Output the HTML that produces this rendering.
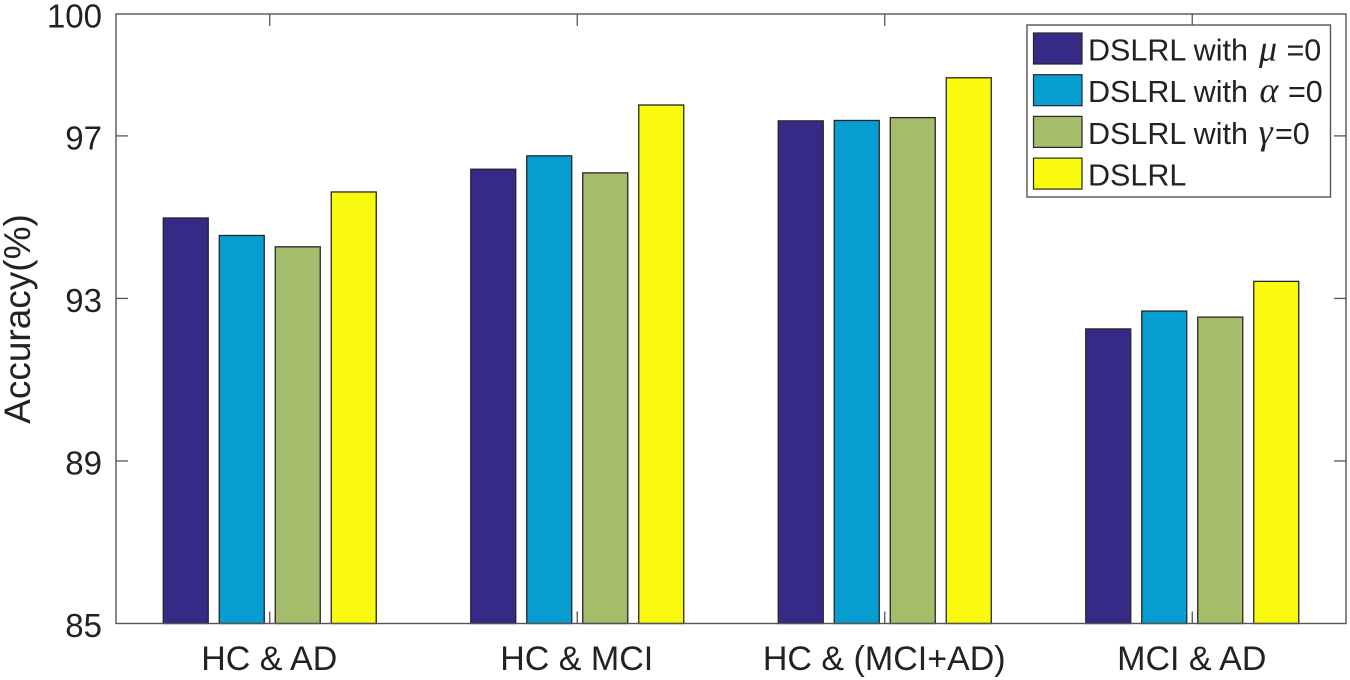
<!DOCTYPE html>
<html lang="en">
<head>
<meta charset="utf-8">
<title>Accuracy by classification task</title>
<style>
  html, body { margin: 0; padding: 0; background: #fff; }
  svg { display: block; }
  text { font-family: "Liberation Sans", sans-serif; fill: #222; }
  .greek { font-family: "Liberation Serif", serif; font-style: italic; }
</style>
</head>
<body>
<svg id="chart" width="1350" height="680" viewBox="0 0 1350 680" xmlns="http://www.w3.org/2000/svg"></svg>
<script>
const categories = ['HC & AD', 'HC & MCI', 'HC & (MCI+AD)', 'MCI & AD'];
const seriesMu = [94.98, 96.18, 97.37, 92.25];
const seriesAlpha = [94.55, 96.51, 97.38, 92.69];
const seriesGamma = [94.27, 96.09, 97.45, 92.54];
const seriesFull = [95.62, 97.76, 98.43, 93.42];
const yTicks = [85, 89, 93, 97, 100];
const seriesColors = ['#352a85', '#069dd1', '#a5bc6a', '#f9fa0d'];
const seriesKeys = ['mu', 'alpha', 'gamma', 'full'];

const NS = 'http://www.w3.org/2000/svg';
const svg = document.getElementById('chart');
const plot = { left: 116, right: 1346, top: 14, bottom: 623.5 };
const yMin = 85;
const yMax = 100;
const allSeries = [seriesMu, seriesAlpha, seriesGamma, seriesFull];

function yScale(v) {
  return plot.bottom - (v - yMin) / (yMax - yMin) * (plot.bottom - plot.top);
}
function xScale(i) {
  const step = (plot.right - plot.left) / categories.length;
  return plot.left + step * (i + 0.5);
}
function make(tag, attrs, parent) {
  const el = document.createElementNS(NS, tag);
  for (const k in attrs) el.setAttribute(k, attrs[k]);
  (parent || svg).appendChild(el);
  return el;
}

const barWidth = 45;
const barPitch = 56;

allSeries.forEach(function (values, s) {
  values.forEach(function (v, i) {
    const cx = xScale(i) + (s - 1.5) * barPitch;
    const y = yScale(v);
    const bar = make('rect', {
      x: cx - barWidth / 2,
      y: y,
      width: barWidth,
      height: plot.bottom - y,
      fill: seriesColors[s],
      stroke: '#26262a',
      'stroke-width': 1.3
    });
    
    
  });
});

const frame = make('rect', {
  x: plot.left,
  y: plot.top,
  width: plot.right - plot.left,
  height: plot.bottom - plot.top,
  fill: 'none',
  stroke: '#555',
  'stroke-width': 1.4
});



yTicks.forEach(function (t) {
  const y = yScale(t);
  if (t !== yMin && t !== yMax) {
    const left = make('line', { x1: plot.left, x2: plot.left + 12, y1: y, y2: y, stroke: '#555', 'stroke-width': 1.3 });
    
    
    const right = make('line', { x1: plot.right - 12, x2: plot.right, y1: y, y2: y, stroke: '#555', 'stroke-width': 1.3 });
    
    
  }
  const label = make('text', { x: 102, y: y + 13.5, 'text-anchor': 'end', 'font-size': 33 });
  label.textContent = String(t);
  
  
});

categories.forEach(function (c, i) {
  const x = xScale(i);
  const bottomTick = make('line', { x1: x, x2: x, y1: plot.bottom, y2: plot.bottom - 12, stroke: '#555', 'stroke-width': 1.3 });
  
  
  const topTick = make('line', { x1: x, x2: x, y1: plot.top, y2: plot.top + 12, stroke: '#555', 'stroke-width': 1.3 });
  
  
  const label = make('text', { x: x - 0.5, y: 670, 'text-anchor': 'middle', 'font-size': 34 });
  label.textContent = c;
  
  
});

const yTitle = make('text', { transform: 'translate(30 319) rotate(-90)', 'text-anchor': 'middle', 'font-size': 37 });
yTitle.textContent = 'Accuracy(%)';



const legend = make('g', {});



const legendBox = make('rect', { x: 1027, y: 25, width: 303.5, height: 172, fill: '#fff', stroke: '#555', 'stroke-width': 1.4 }, legend);



const legendRows = [
  { prefix: 'DSLRL with', greek: 'μ', suffix: '=0', gx: 1259, sx: 1286.5 },
  { prefix: 'DSLRL with', greek: 'α', suffix: '=0', gx: 1259.5, sx: 1288 },
  { prefix: 'DSLRL with', greek: 'γ', suffix: '=0', gx: 1258.5, sx: 1275 },
  { prefix: 'DSLRL' }
];
legendRows.forEach(function (row, r) {
  const top = 33 + r * 41.7;
  const swatch = make('rect', { x: 1033.5, y: top, width: 48.5, height: 31, fill: seriesColors[r], stroke: '#26262a', 'stroke-width': 1.2 }, legend);
  
  
  const baseline = top + 27.5;
  const label = make('text', { x: 1088, y: baseline, 'font-size': 30.5 }, legend);
  label.textContent = row.prefix;
  
  
  if (row.greek) {
    const greek = make('text', { x: row.gx, y: baseline, 'font-size': 36, class: 'greek' }, legend);
    greek.textContent = row.greek;
    
    
    const suffix = make('text', { x: row.sx, y: baseline, 'font-size': 30.5 }, legend);
    suffix.textContent = row.suffix;
    
    
  }
});
</script>
</body>
</html>
